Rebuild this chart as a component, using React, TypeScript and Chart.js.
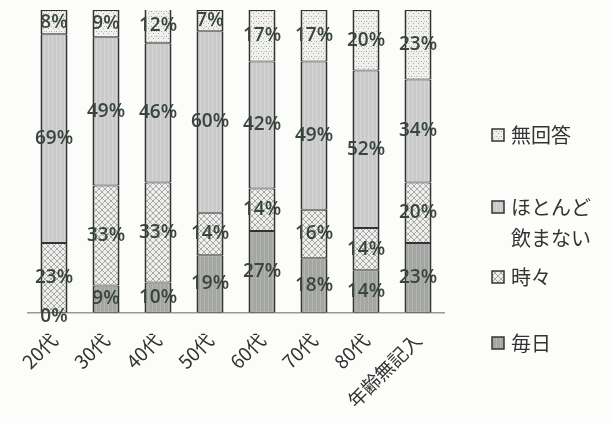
import React, { useEffect, useRef } from "react";
import { Chart, registerables } from "chart.js";

Chart.register(...registerables);

const categories = ["20代", "30代", "40代", "50代", "60代", "70代", "80代", "年齢無記入"];
const seriesNames = ["毎日", "時々", "ほとんど飲まない", "無回答"];
const everyday = [0, 9, 10, 19, 27, 18, 14, 23];
const sometimes = [23, 33, 33, 14, 14, 16, 14, 20];
const rarely = [69, 49, 46, 60, 42, 49, 52, 34];
const noAnswer = [8, 9, 12, 7, 17, 17, 20, 23];

function makePattern(kind: string): CanvasPattern | string {
  const c = document.createElement("canvas");
  const ctx = c.getContext("2d");
  if (!ctx) return "#ccc";
  if (kind === "everyday") {
    c.width = 4; c.height = 4;
    ctx.fillStyle = "#a4a6a4"; ctx.fillRect(0, 0, 4, 4);
    ctx.fillStyle = "#b3b5b3"; ctx.fillRect(0, 0, 1, 4);
  } else if (kind === "rarely") {
    c.width = 4; c.height = 4;
    ctx.fillStyle = "#c9cac9"; ctx.fillRect(0, 0, 4, 4);
    ctx.fillStyle = "#d5d6d5"; ctx.fillRect(0, 0, 1, 4);
  } else if (kind === "sometimes") {
    c.width = 6; c.height = 6;
    ctx.fillStyle = "#eeeeec"; ctx.fillRect(0, 0, 6, 6);
    ctx.strokeStyle = "#a8a8a6"; ctx.lineWidth = 1;
    ctx.beginPath();
    ctx.moveTo(0, 0); ctx.lineTo(6, 6);
    ctx.moveTo(6, 0); ctx.lineTo(0, 6);
    ctx.stroke();
  } else {
    c.width = 5; c.height = 5;
    ctx.fillStyle = "#f0f0ee"; ctx.fillRect(0, 0, 5, 5);
    ctx.fillStyle = "#a9aaa8";
    ctx.fillRect(1, 1, 1, 1);
    ctx.fillRect(3, 3, 1, 1);
    ctx.fillStyle = "#c8c8c6";
    ctx.fillRect(4, 1, 1, 1);
  }
  return ctx.createPattern(c, "repeat") || "#ccc";
}

export default function App() {
  const ref = useRef<HTMLCanvasElement | null>(null);

  useEffect(() => {
    if (!ref.current) return;
    const fills = [
      makePattern("everyday"),
      makePattern("sometimes"),
      makePattern("rarely"),
      makePattern("noanswer"),
    ];
    const values = [everyday, sometimes, rarely, noAnswer];

    const labelPlugin = {
      id: "segLabels",
      afterDatasetsDraw(chart: any) {
        const ctx = chart.ctx;
        ctx.save();
        ctx.font = "600 19px 'Open Sans'";
        ctx.fillStyle = "#3a4540";
        ctx.textAlign = "center";
        ctx.textBaseline = "middle";
        chart.data.datasets.forEach((ds: any, di: number) => {
          const meta = chart.getDatasetMeta(di);
          meta.data.forEach((el: any, i: number) => {
            const v = ds.data[i];
            const y = v === 0 ? el.base + 4 : (el.y + el.base) / 2;
            ctx.fillText(v + "%", el.x, y);
          });
        });
        ctx.restore();
      },
    };

    const legendPlugin = {
      id: "customLegend",
      afterDraw(chart: any) {
        const ctx = chart.ctx;
        ctx.save();
        const items = [
          { i: 3, lines: ["無回答"], y: 135 },
          { i: 2, lines: ["ほとんど", "飲まない"], y: 207 },
          { i: 1, lines: ["時々"], y: 277 },
          { i: 0, lines: ["毎日"], y: 343 },
        ];
        ctx.font = "20px 'Noto Sans CJK JP'";
        ctx.textBaseline = "middle";
        ctx.textAlign = "left";
        items.forEach((it) => {
          ctx.fillStyle = fills[it.i] as any;
          ctx.fillRect(492, it.y - 6, 12, 12);
          ctx.strokeStyle = "#333";
          ctx.lineWidth = 1.5;
          ctx.strokeRect(492, it.y - 6, 12, 12);
          ctx.fillStyle = "#333";
          it.lines.forEach((ln, k) => ctx.fillText(ln, 511, it.y + k * 31));
        });
        ctx.restore();
      },
    };

    const chart = new Chart(ref.current, {
      type: "bar",
      data: {
        labels: categories,
        datasets: seriesNames.map((name, k) => ({
          label: name,
          data: values[k],
          backgroundColor: fills[k] as any,
          borderColor: "#333",
          borderWidth: { left: 2, right: 2, top: 1, bottom: 1 },
          borderSkipped: false,
          barPercentage: 0.52,
          categoryPercentage: 1,
        })),
      },
      options: {
        responsive: false,
        animation: false,
        layout: { padding: { left: 28, right: 168, top: 10, bottom: 4 } },
        plugins: { legend: { display: false }, tooltip: { enabled: false } },
        scales: {
          x: {
            stacked: true,
            grid: { display: false },
            border: { display: true, color: "#999", width: 1.5 },
            ticks: {
              color: "#333",
              padding: 8,
              font: { family: "'Noto Sans CJK JP'", size: 19 },
              maxRotation: 45,
              minRotation: 45,
            },
          },
          y: { stacked: true, display: false, min: 0, max: 100 },
        },
      },
      plugins: [labelPlugin, legendPlugin],
    });
    return () => chart.destroy();
  }, []);

  return (
    <div style={{ position: "absolute", left: 0, top: 0, width: 612, height: 424, background: "#fcfcfa" }}>
      <canvas ref={ref} width={612} height={424} />
    </div>
  );
}
